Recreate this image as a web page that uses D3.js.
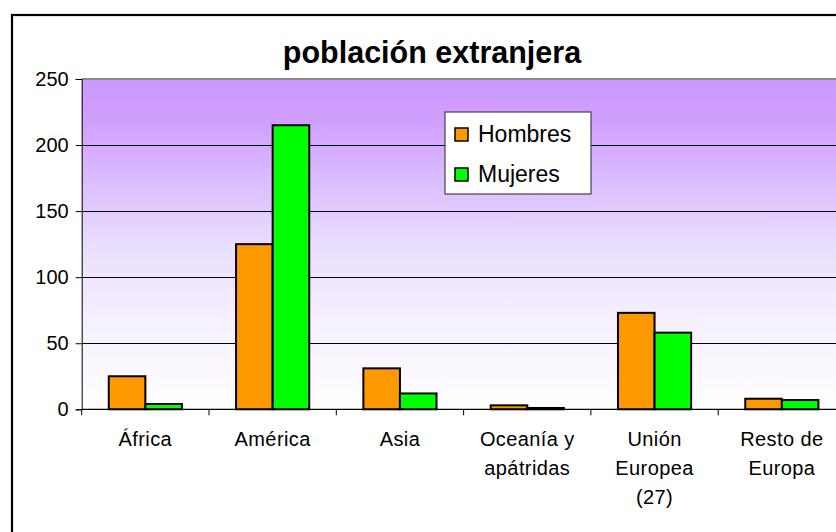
<!DOCTYPE html>
<html>
<head>
<meta charset="utf-8">
<script src="https://cdn.jsdelivr.net/npm/d3@7"></script>
<style>
  html, body { margin: 0; padding: 0; background: #fff; overflow: hidden; }
  svg { display: block; font-family: "Liberation Sans", Arial, sans-serif; }
</style>
</head>
<body>
<div id="chart"></div>
<script>
// data
const categories = ["África", "América", "Asia", "Oceanía y\napátridas", "Unión\nEuropea\n(27)", "Resto de\nEuropa"];
const seriesNames = ["Hombres", "Mujeres"];
const hombres = [25, 125, 31, 3, 73, 8];
const mujeres = [4, 215, 12, 1, 58, 7];
const yTicks = [0, 50, 100, 150, 200, 250];

const COLORS = { Hombres: "#FF9900", Mujeres: "#00FF00" };

const W = 836, H = 532;
const svg = d3.select("#chart").append("svg")
  .attr("width", W).attr("height", H);

// outer chart frame (cropped on right/bottom like the source)
svg.append("rect")
  .attr("x", 12).attr("y", 15)
  .attr("width", 840).attr("height", 540)
  .attr("fill", "#fff")
  .attr("stroke", "#000")
  .attr("stroke-width", 2.2);

// plot geometry
const plot = { left: 81.7, right: 845.5, top: 79, bottom: 409.3 };

const x0 = d3.scaleBand().domain(categories).range([plot.left, plot.right]);
const x1 = d3.scaleBand().domain(seriesNames).range([0, x0.bandwidth()]).paddingOuter(0.74);
const y = d3.scaleLinear().domain([0, 250]).range([plot.bottom, plot.top]);

// background gradient
const defs = svg.append("defs");
const grad = defs.append("linearGradient")
  .attr("id", "bg").attr("x1", 0).attr("y1", 0).attr("x2", 0).attr("y2", 1);
[[0, "#CC99FF"], [0.12, "#CF9FFF"], [0.3, "#DABBFF"], [0.5, "#EADDFF"], [0.72, "#F5EFFF"], [1, "#FFFFFF"]]
  .forEach(([o, c]) => grad.append("stop").attr("offset", o).attr("stop-color", c));

svg.append("rect")
  .attr("x", plot.left).attr("y", plot.top)
  .attr("width", plot.right - plot.left).attr("height", plot.bottom - plot.top)
  .attr("fill", "url(#bg)");

// top border of plot area
svg.append("line")
  .attr("x1", plot.left).attr("x2", plot.right)
  .attr("y1", plot.top).attr("y2", plot.top)
  .attr("stroke", "#8c8c8c").attr("stroke-width", 2);

// gridlines
svg.append("g")
  .selectAll("line")
  .data(yTicks.filter(t => t > 0 && t < 250))
  .join("line")
  .attr("x1", plot.left).attr("x2", plot.right)
  .attr("y1", d => Math.round(y(d)) + 0.5).attr("y2", d => Math.round(y(d)) + 0.5)
  .attr("stroke", "#000").attr("stroke-width", 1);

// y axis
const yAxis = svg.append("g")
  .attr("transform", `translate(${plot.left},0)`)
  .call(d3.axisLeft(y).tickValues(yTicks).tickSize(6).tickPadding(7));
yAxis.select(".domain").attr("stroke", "#000").attr("stroke-width", 1);
yAxis.selectAll(".tick line").attr("stroke", "#000");
yAxis.selectAll(".tick text")
  .attr("font-family", "Liberation Sans, Arial, sans-serif")
  .attr("font-size", 20).attr("fill", "#000");

// bars
const rows = categories.map((c, i) => ({ cat: c, values: [
  { name: "Hombres", v: hombres[i] }, { name: "Mujeres", v: mujeres[i] } ] }));

const groups = svg.append("g").selectAll("g")
  .data(rows)
  .join("g")
  .attr("transform", d => `translate(${x0(d.cat)},0)`);

groups.selectAll("rect")
  .data(d => d.values)
  .join("rect")
  .attr("x", d => x1(d.name))
  .attr("y", d => y(d.v))
  .attr("width", x1.bandwidth())
  .attr("height", d => y(0) - y(d.v))
  .attr("fill", d => COLORS[d.name])
  .attr("stroke", "#000")
  .attr("stroke-width", 2);

// x axis
const xAxis = svg.append("g")
  .attr("transform", `translate(0,${plot.bottom})`);
xAxis.append("line")
  .attr("x1", plot.left).attr("x2", plot.right)
  .attr("y1", 0).attr("y2", 0)
  .attr("stroke", "#000").attr("stroke-width", 1.3);
xAxis.selectAll("line.tick")
  .data(categories)
  .join("line")
  .attr("class", "tick")
  .attr("x1", d => x0(d)).attr("x2", d => x0(d))
  .attr("y1", 0).attr("y2", 6)
  .attr("stroke", "#000");

const xl = xAxis.selectAll("text")
  .data(categories)
  .join("text")
  .attr("text-anchor", "middle")
  .attr("font-size", 20)
  .attr("letter-spacing", 0.4)
  .attr("fill", "#000")
  .attr("transform", d => `translate(${x0(d) + x0.bandwidth() / 2},37)`);
xl.selectAll("tspan")
  .data(d => d.split("\n"))
  .join("tspan")
  .attr("x", 0)
  .attr("y", (d, i) => i * 29)
  .text(d => d);

// title
svg.append("text")
  .attr("x", 432).attr("y", 63)
  .attr("text-anchor", "middle")
  .attr("font-size", 30.5)
  .attr("font-weight", "bold")
  .attr("fill", "#000")
  .text("población extranjera");

// legend
const legend = svg.append("g").attr("transform", "translate(445,112)");
legend.append("rect")
  .attr("width", 146).attr("height", 82)
  .attr("fill", "#fff").attr("stroke", "#444").attr("stroke-width", 1.2);
const li = legend.selectAll("g.item")
  .data(seriesNames)
  .join("g")
  .attr("class", "item")
  .attr("transform", (d, i) => `translate(10,${16 + i * 40})`);
li.append("rect")
  .attr("width", 13).attr("height", 13)
  .attr("fill", d => COLORS[d])
  .attr("stroke", "#000").attr("stroke-width", 1.5);
li.append("text")
  .attr("x", 23).attr("y", 14)
  .attr("font-size", 23)
  .attr("fill", "#000")
  .text(d => d);
</script>
</body>
</html>
